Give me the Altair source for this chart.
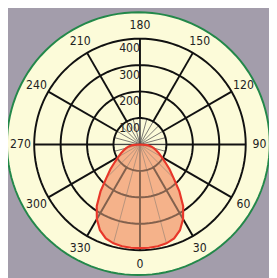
import altair as alt
import pandas as pd

# ---- data ----
angles = list(range(0, 360, 5))
intensity = (
    [392, 392, 391, 387, 378, 358, 326, 285, 232, 180, 146, 116, 95, 79, 66, 54, 43, 28, 0]
    + [0] * 35
    + [0, 28, 43, 54, 66, 79, 95, 116, 146, 180, 232, 285, 326, 358, 378, 387, 391, 392]
)
ring_values = [100, 200, 300, 400]
angle_ticks = list(range(0, 360, 30))
fine_ticks = list(range(0, 360, 15))

# ---- styling / geometry ----
W, H = 269, 270
K = 0.2725            # px per unit
CX, CY = 136, 136.5   # centre in chart px
xdom = [-CX / K, (W - CX) / K]
ydom = [-(H - CY) / K, CY / K]
FONT = "DejaVu Sans Condensed, DejaVu Sans, sans-serif"

xs = alt.Scale(domain=xdom, nice=False, zero=False)
ys = alt.Scale(domain=ydom, nice=False, zero=False)
X = lambda f: alt.X(f"{f}:Q", scale=xs, axis=None)
Y = lambda f: alt.Y(f"{f}:Q", scale=ys, axis=None)
polar = dict(x="datum.r*sin(datum.a*PI/180)", y="-datum.r*cos(datum.a*PI/180)")

# curve polygon (-90..90 deg)
curve = pd.DataFrame({"a": angles, "r": intensity})
curve["s"] = [(a + 90) % 360 for a in angles]
curve = curve[curve["s"] <= 180].sort_values("s").reset_index(drop=True)
curve["i"] = range(len(curve))

# rings
circ = [a for a in range(0, 361, 3)]
rings = pd.DataFrame([{"ring": r, "a": a, "r": r, "i": i} for r in ring_values for i, a in enumerate(circ)])
disk = pd.DataFrame({"a": circ, "r": [497] * len(circ), "i": list(range(len(circ)))})

# spokes
lookup = dict(zip(angles, intensity))
thin = pd.DataFrame({"a": fine_ticks, "r0": [0] * len(fine_ticks),
                     "r1": [max(ring_values[0], lookup[a]) for a in fine_ticks]})
thick = pd.DataFrame({"a": angle_ticks, "r0": [ring_values[0]] * 12, "r1": [ring_values[-1]] * 12})
axes4 = pd.DataFrame({"a": [0, 90, 180, 270], "r0": [0] * 4, "r1": [ring_values[0]] * 4})
alab = pd.DataFrame({"a": angle_ticks, "r": [452] * 12, "t": [str(a) for a in angle_ticks]})
rlab = pd.DataFrame({"r": ring_values, "t": [str(v) for v in ring_values]})

def spokes_calc(ch):
    return ch.transform_calculate(
        x0="datum.r0*sin(datum.a*PI/180)", y0="-datum.r0*cos(datum.a*PI/180)",
        x1="datum.r1*sin(datum.a*PI/180)", y1="-datum.r1*cos(datum.a*PI/180)")

disk_l = alt.Chart(disk).mark_line(fill="#fcfbd9", stroke="#23884a", strokeWidth=2).transform_calculate(
    x="datum.r*sin(datum.a*PI/180) - 6", y="-datum.r*cos(datum.a*PI/180) + 3"
).encode(x=X("x"), y=Y("y"), order="i:Q")

fill_base = alt.Chart(curve).transform_calculate(**polar).encode(x=X("x"), y=Y("y"), order="i:Q")
fill1 = fill_base.mark_line(fill="#f5b28a", strokeOpacity=0, interpolate="linear-closed")

thin_l = spokes_calc(alt.Chart(thin)).mark_rule(color="#77756e", strokeWidth=1).encode(
    x=X("x0"), y=Y("y0"), x2="x1:Q", y2="y1:Q")

axes_l = spokes_calc(alt.Chart(axes4)).mark_rule(color="#444444", strokeWidth=1.4).encode(
    x=X("x0"), y=Y("y0"), x2="x1:Q", y2="y1:Q")

ring_l = alt.Chart(rings).transform_calculate(**polar).mark_line(color="#111111", strokeWidth=2).encode(
    x=X("x"), y=Y("y"), detail="ring:N", order="i:Q")

thick_l = spokes_calc(alt.Chart(thick)).mark_rule(color="#111111", strokeWidth=2).encode(
    x=X("x0"), y=Y("y0"), x2="x1:Q", y2="y1:Q")

fill2 = fill_base.mark_line(fill="#f5b28a", fillOpacity=0.5, strokeOpacity=0, interpolate="linear-closed")
outline = fill_base.mark_line(color="#e8372a", strokeWidth=2.2, interpolate="linear-closed")

alab_l = alt.Chart(alab).transform_calculate(**polar).mark_text(
    font=FONT, fontSize=12.5, color="#222222", baseline="middle", align="center"
).encode(x=X("x"), y=Y("y"), text="t:N")

rlab_l = alt.Chart(rlab).transform_calculate(x="0", y="datum.r").mark_text(
    font=FONT, fontSize=12.5, color="#222222", baseline="middle", align="right", dx=0, dy=10
).encode(x=X("x"), y=Y("y"), text="t:N")

chart = alt.layer(disk_l, fill1, thin_l, axes_l, ring_l, thick_l, fill2, outline, alab_l, rlab_l).properties(
    width=W, height=H, padding=0, autosize=alt.AutoSizeParams(type="none"), background="#a39dab"
).configure_view(stroke=None)

chart.save("out.html", embed_options={"renderer": "svg", "actions": False})
